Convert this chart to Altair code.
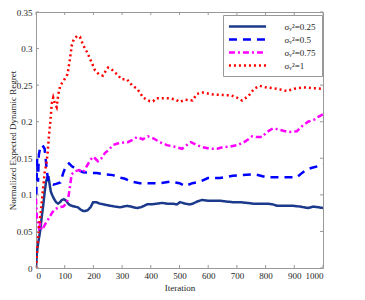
import altair as alt
import pandas as pd

labels = ["σᵥ²=0.25", "σᵥ²=0.5", "σᵥ²=0.75", "σᵥ²=1"]
colors = ["#1c3a8c", "#0000ff", "#ff00ff", "#ff0000"]
dashes = [[1, 0], [8, 6], [6, 3, 2, 3], [2, 3]]

x_ticks = [0, 100, 200, 300, 400, 500, 600, 700, 800, 900, 1000]
y_ticks = [0, 0.05, 0.1, 0.15, 0.2, 0.25, 0.3, 0.35]

it_a = [0, 3, 6, 10, 15, 20, 25, 30, 35, 40,
        44, 48, 52, 56, 62, 70, 77, 84, 90, 97,
        105, 112, 118, 125, 135, 146, 155, 164, 172, 180,
        190, 199, 210, 223, 235, 247, 260, 275, 293, 305,
        317, 330, 340, 352, 365, 377, 387, 400, 422, 440,
        456, 475, 491, 502, 520, 535, 547, 562, 578, 600,
        620, 641, 660, 686, 710, 735, 756, 780, 805, 825,
        840, 870, 895, 920, 948, 966, 985, 1000]
val_a = [0, 0.02, 0.03, 0.04, 0.052, 0.07, 0.085, 0.103, 0.118, 0.124,
         0.124, 0.113, 0.104, 0.1, 0.095, 0.09, 0.088, 0.09, 0.093, 0.094,
         0.092, 0.088, 0.086, 0.085, 0.084, 0.083, 0.08, 0.078, 0.078, 0.079,
         0.083, 0.09, 0.09, 0.088, 0.087, 0.086, 0.085, 0.084, 0.083, 0.084,
         0.085, 0.084, 0.083, 0.082, 0.083, 0.085, 0.087, 0.087, 0.088, 0.089,
         0.088, 0.088, 0.087, 0.09, 0.088, 0.087, 0.088, 0.091, 0.093, 0.092,
         0.092, 0.092, 0.091, 0.09, 0.09, 0.089, 0.088, 0.088, 0.088, 0.087,
         0.085, 0.085, 0.085, 0.084, 0.082, 0.084, 0.083, 0.082]

it_b = [1, 4, 7, 10, 15, 22, 30, 36, 42, 50, 60, 70, 85, 95, 105, 115, 125,
        146, 164, 190, 212, 240, 268, 290, 310, 334, 362, 400, 432, 467, 500,
        519, 545, 571, 599, 641, 686, 720, 763, 805, 850, 880, 909, 927, 945,
        962, 990, 1000]
val_b = [0.1, 0.15, 0.118, 0.155, 0.165, 0.168, 0.163, 0.14, 0.12, 0.116, 0.114,
         0.115, 0.117, 0.13, 0.14, 0.143, 0.139, 0.134, 0.131, 0.13, 0.13, 0.128,
         0.127, 0.124, 0.122, 0.118, 0.116, 0.116, 0.116, 0.118, 0.116, 0.112,
         0.116, 0.118, 0.123, 0.123, 0.126, 0.127, 0.128, 0.124, 0.124, 0.124,
         0.124, 0.13, 0.135, 0.137, 0.14, 0.142]

it_c = [0, 3, 6, 10, 15, 20, 25, 35, 45, 55, 65, 80, 95, 105, 112, 118, 124,
        135, 150, 165, 178, 190, 200, 216, 228, 240, 255, 268, 290, 320, 340,
        352, 372, 390, 410, 432, 456, 480, 509, 525, 540, 560, 582, 606, 631,
        650, 676, 700, 721, 740, 753, 770, 787, 805, 826, 848, 868, 890, 909,
        930, 948, 970, 985, 1000]
val_c = [0.095, 0.07, 0.065, 0.055, 0.06, 0.052, 0.055, 0.062, 0.068, 0.075,
         0.08, 0.083, 0.084, 0.088, 0.095, 0.11, 0.128, 0.132, 0.134, 0.131,
         0.14, 0.148, 0.152, 0.146, 0.15, 0.157, 0.162, 0.168, 0.171, 0.172,
         0.176, 0.179, 0.176, 0.18, 0.177, 0.172, 0.168, 0.166, 0.163, 0.168,
         0.172, 0.168, 0.165, 0.163, 0.163, 0.165, 0.166, 0.168, 0.171, 0.176,
         0.18, 0.179, 0.179, 0.186, 0.191, 0.189, 0.187, 0.186, 0.187, 0.195,
         0.2, 0.203, 0.207, 0.21]

it_d = [0, 5, 10, 15, 20, 25, 30, 35, 40, 45, 50, 55, 60, 66, 72, 78, 85, 95,
        102, 110, 118, 125, 132, 143, 153, 164, 178, 195, 206, 219, 233, 244,
        251, 268, 282, 298, 317, 334, 352, 362, 373, 387, 397, 408, 418, 442,
        467, 488, 500, 520, 545, 561, 580, 620, 680, 700, 718, 740, 760, 780,
        800, 840, 874, 900, 930, 960, 1000]
val_d = [0, 0.03, 0.055, 0.07, 0.09, 0.11, 0.13, 0.14, 0.155, 0.18, 0.2, 0.225,
         0.233, 0.225, 0.22, 0.238, 0.25, 0.255, 0.26, 0.265, 0.285, 0.305,
         0.313, 0.317, 0.316, 0.305, 0.295, 0.28, 0.27, 0.265, 0.263, 0.27,
         0.274, 0.27, 0.265, 0.258, 0.258, 0.25, 0.245, 0.24, 0.233, 0.23,
         0.228, 0.228, 0.232, 0.232, 0.232, 0.23, 0.227, 0.23, 0.229, 0.238,
         0.24, 0.237, 0.236, 0.233, 0.229, 0.235, 0.245, 0.249, 0.247, 0.245,
         0.242, 0.245, 0.247, 0.246, 0.245]

series = [(it_a, val_a), (it_b, val_b), (it_c, val_c), (it_d, val_d)]
rows = []
for lab, (its, vals) in zip(labels, series):
    assert len(its) == len(vals), lab
    for i, v in zip(its, vals):
        rows.append({"iter": i, "value": v, "series": lab})
df = pd.DataFrame(rows)

FONT = "Liberation Serif"
BOX = "#999999"
TXT = "#262626"

xs = alt.Scale(domain=[0, 1000], nice=False, zero=False)
ys = alt.Scale(domain=[0, 0.35], nice=False, zero=False)

leg = alt.Legend(
    title=None, orient="none", legendX=187, legendY=3,
    fillColor="white", strokeColor=BOX, padding=5.5,
    symbolType="M-4,0H4", symbolSize=86, symbolStrokeWidth=2.5,
    symbolOffset=13,
    labelFont=FONT, labelFontSize=9, labelColor=TXT, labelOffset=31,
    rowPadding=2,
)

ax_common = dict(domain=False, ticks=False, tickSize=0, grid=False,
                 labelFont=FONT, labelFontSize=9, labelColor=TXT,
                 titleFont=FONT, titleFontSize=9, titleColor=TXT,
                 titleFontWeight="normal", labelOverlap=False)
x_axis = alt.Axis(values=x_ticks, format="d", title="Iteration",
                  labelPadding=3, titlePadding=3, **ax_common)
y_axis = alt.Axis(values=y_ticks, format="~g",
                  title="Normalized Expected Dynamic Regret",
                  labelPadding=4, titlePadding=-1, **ax_common)

lines = alt.Chart(df).mark_line(strokeWidth=2.5, clip=True).encode(
    x=alt.X("iter:Q", scale=xs, axis=x_axis),
    y=alt.Y("value:Q", scale=ys, axis=y_axis),
    color=alt.Color("series:N", scale=alt.Scale(domain=labels, range=colors), legend=leg),
    strokeDash=alt.StrokeDash("series:N", scale=alt.Scale(domain=labels, range=dashes), legend=leg),
)

xt = pd.DataFrame({"t": x_ticks})
yt = pd.DataFrame({"t": y_ticks})
XL = 10.45
YL = 0.0041

tick_style = dict(color=BOX, strokeWidth=1)
bx = alt.Chart(xt).mark_rule(**tick_style).transform_calculate(
    lo="0", hi=str(YL)).encode(x=alt.X("t:Q", scale=xs, axis=x_axis),
                               y=alt.Y("lo:Q", scale=ys, axis=y_axis), y2="hi:Q")
tx = alt.Chart(xt).mark_rule(**tick_style).transform_calculate(
    lo=str(0.35 - YL), hi="0.35").encode(x=alt.X("t:Q", scale=xs, axis=x_axis),
                                         y=alt.Y("lo:Q", scale=ys, axis=y_axis), y2="hi:Q")
ly = alt.Chart(yt).mark_rule(**tick_style).transform_calculate(
    lo="0", hi=str(XL)).encode(y=alt.Y("t:Q", scale=ys, axis=y_axis),
                               x=alt.X("lo:Q", scale=xs, axis=x_axis), x2="hi:Q")
ry = alt.Chart(yt).mark_rule(**tick_style).transform_calculate(
    lo=str(1000 - XL), hi="1000").encode(y=alt.Y("t:Q", scale=ys, axis=y_axis),
                                         x=alt.X("lo:Q", scale=xs, axis=x_axis), x2="hi:Q")

chart = alt.layer(lines, bx, tx, ly, ry).properties(
    width=287, height=256,
    background="white",
    autosize=alt.AutoSizeParams(type="none"),
    padding={"left": 28, "top": 4, "right": 20, "bottom": 24},
).configure_view(
    stroke=BOX, strokeWidth=1
)

chart.save("out.html", embed_options={"renderer": "svg", "actions": False})
